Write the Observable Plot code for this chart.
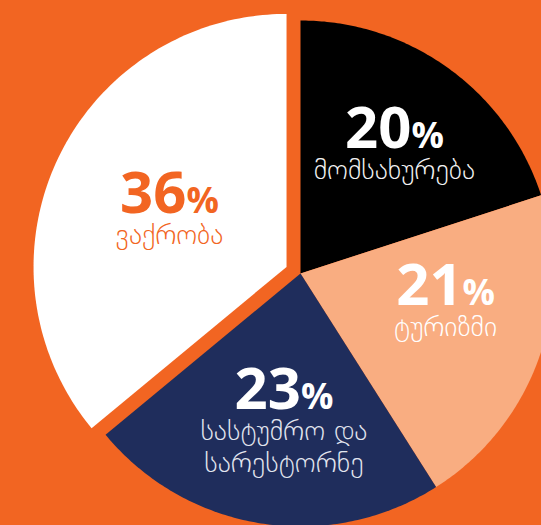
<!DOCTYPE html>
<html><head><meta charset="utf-8">
<script src="https://cdn.jsdelivr.net/npm/d3@7"></script>
<script src="https://cdn.jsdelivr.net/npm/@observablehq/plot@0.6"></script>
<style>
html,body{margin:0;padding:0;background:#F26522;overflow:hidden}
#chart svg{display:block;background:#F26522}
</style></head><body><div id="chart"></div>
<script>
// data
const categories = ["მომსახურება", "ტურიზმი", "სასტუმრო და\nსარესტორნე", "ვაქრობა"];
const values = [20, 21, 23, 36];
const valueLabels = ["20", "21", "23", "36"];

// styles / layout
const sliceColors = ["#000000", "#F9AD81", "#1F2D5C", "#FFFFFF"];
const numberColors = ["#FFFFFF", "#FFFFFF", "#FFFFFF", "#F26522"];
const nameColors = ["#F2F2F2", "#FFFFFF", "#E3E6EF", "#F26522"];
const explode = [0, 0, 0, 0.061];
const labelRadius = [0.621, 0.587, 0.538, 0.509];
const labelNudgeDeg = [0.7, -7.4, -2, -0.6];

const W = 541, H = 525, CX = 300, CY = 273, R = 253;

const arcs = d3.pie().sort(null).value(d => d)(values);
const slicePts = [];
const labels = [];
arcs.forEach((a, i) => {
  const mid = (a.startAngle + a.endAngle) / 2;
  const ox = explode[i] * Math.sin(mid), oy = explode[i] * Math.cos(mid);
  slicePts.push({k: i, x: ox, y: oy, c: sliceColors[i]});
  const n = 120;
  for (let j = 0; j <= n; j++) {
    const t = a.startAngle + (a.endAngle - a.startAngle) * j / n;
    slicePts.push({k: i, x: ox + Math.sin(t), y: oy + Math.cos(t), c: sliceColors[i]});
  }
  const la = mid + labelNudgeDeg[i] * Math.PI / 180;
  labels.push({
    x: ox + labelRadius[i] * Math.sin(la),
    y: oy + labelRadius[i] * Math.cos(la),
    num: valueLabels[i], name: categories[i],
    nc: numberColors[i], tc: nameColors[i]
  });
});

const chart = Plot.plot({
  width: W, height: H, margin: 0,
  style: {background: "#F26522"},
  x: {axis: null, domain: [-CX / R, (W - CX) / R], range: [0, W]},
  y: {axis: null, domain: [-(H - CY) / R, CY / R], range: [H, 0]},
  color: {type: "identity"},
  marks: [
    Plot.line(slicePts, {x: "x", y: "y", z: "k", fill: "c", stroke: "none"}),
    Plot.text(labels, {x: "x", y: "y", text: "num", fill: "nc", textAnchor: "end", lineAnchor: "bottom",
      dx: 17, fontSize: 58, fontWeight: 700, fontFamily: "Open Sans"}),
    Plot.text(labels, {x: "x", y: "y", text: () => "%", fill: "nc", textAnchor: "start", lineAnchor: "bottom",
      dx: 17, fontSize: 36, fontWeight: 700, fontFamily: "Open Sans"}),
    Plot.text(labels, {x: "x", y: "y", text: "name", fill: "tc", textAnchor: "middle", lineAnchor: "top",
      dy: 8, fontSize: 28, fontWeight: 300, lineHeight: 1.16, fontFamily: "DejaVu Sans"})
  ]
});
document.getElementById("chart").appendChild(chart);
</script></body></html>
